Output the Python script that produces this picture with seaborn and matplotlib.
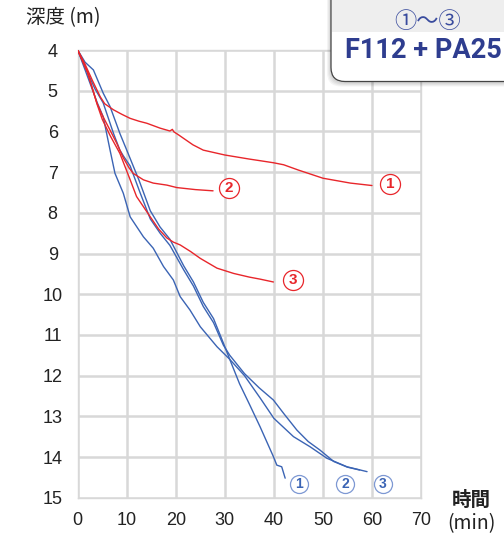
import matplotlib
matplotlib.use("Agg")
import matplotlib.pyplot as plt
import seaborn as sns
from matplotlib.patches import FancyBboxPatch, Rectangle
from matplotlib.transforms import IdentityTransform

# depth (m) vs time (min)
red1_x = [0, 1.5, 3, 4, 4.6, 5.5, 7.3, 9, 10.7, 12.5, 14.1, 16.8, 18.8, 19.3, 19.6, 20.5, 23.5, 25.6, 30, 35, 37.2, 39.9, 42, 45, 50, 55.6, 60]
red1_y = [4, 4.35, 4.75, 5.0, 5.15, 5.32, 5.47, 5.58, 5.68, 5.75, 5.8, 5.92, 5.99, 5.95, 6.01, 6.08, 6.33, 6.46, 6.58, 6.68, 6.72, 6.77, 6.82, 6.95, 7.15, 7.27, 7.33]
red2_x = [0, 2, 3.9, 5, 6.6, 8, 9.3, 10.5, 11.3, 13.4, 15.4, 18.2, 20.2, 24, 27.6]
red2_y = [4, 4.55, 5.3, 5.6, 5.97, 6.3, 6.65, 6.9, 7.03, 7.19, 7.27, 7.32, 7.38, 7.43, 7.46]
red3_x = [0, 2, 4, 5, 6.6, 8.6, 10.7, 12, 14.8, 16.5, 18.2, 19.5, 20.9, 23, 25, 28.4, 31.8, 35, 37.2, 39.9]
red3_y = [4, 4.55, 5.35, 5.7, 6.1, 6.54, 7.19, 7.6, 8.1, 8.4, 8.62, 8.72, 8.79, 8.95, 9.12, 9.36, 9.49, 9.58, 9.63, 9.7]

blue1_x = [0, 1.5, 3.2, 5.2, 6.6, 8.6, 10, 12.5, 14.8, 16.8, 18.8, 21.6, 23.6, 25.6, 27.7, 29.7, 31, 33, 35, 37.2, 39.9, 40.6, 41.6, 42.3]
blue1_y = [4, 4.3, 4.49, 5.06, 5.39, 6.05, 6.46, 7.2, 7.95, 8.35, 8.65, 9.3, 9.7, 10.2, 10.6, 11.2, 11.6, 12.2, 12.7, 13.26, 13.99, 14.2, 14.24, 14.52]
blue2_x = [0, 2, 3.5, 5.2, 7.3, 8.6, 9.3, 10.7, 12.7, 14.8, 16.8, 18.8, 21.6, 23.6, 25.6, 27.7, 29.7, 31, 34, 37, 39.9, 42, 44.7, 47, 49.4, 52.2, 55, 57.5]
blue2_y = [4, 4.55, 4.95, 5.3, 6.05, 6.46, 6.6, 6.85, 7.5, 8.15, 8.5, 8.8, 9.4, 9.8, 10.3, 10.7, 11.25, 11.5, 11.95, 12.3, 12.6, 12.93, 13.34, 13.62, 13.83, 14.11, 14.25, 14.32]
blue3_x = [0, 2, 4, 5.2, 6.6, 7.6, 9.3, 10.7, 13.4, 15.4, 17.5, 19.5, 20.9, 22.9, 25, 28.4, 31, 34, 37.2, 40, 44, 47.4, 50.8, 54.9, 59]
blue3_y = [4, 4.65, 5.3, 5.64, 6.46, 7.03, 7.52, 8.1, 8.59, 8.87, 9.32, 9.65, 10.06, 10.39, 10.8, 11.29, 11.6, 12.0, 12.55, 13.05, 13.5, 13.75, 14.03, 14.24, 14.36]

# circled labels
red_labels = ["1", "2", "3"]
red_label_x = [63.7, 30.8, 43.8]
red_label_y = [7.3, 7.39, 9.65]
blue_labels = ["1", "2", "3"]
blue_label_x = [45.2, 54.6, 62.2]
blue_label_y = [14.66, 14.66, 14.66]

RED = "#e8262b"
BLUE = "#3b64b4"

sns.set_theme(style="white")
plt.rcParams["font.family"] = ["Liberation Sans", "Noto Sans CJK JP", "DejaVu Sans"]

fig = plt.figure(figsize=(5.04, 5.33), dpi=100)
ax = fig.add_axes([77.7 / 504, 1 - 497.7 / 533, (421 - 77.7) / 504, (497.7 - 50) / 533])

for xs, ys in [(blue1_x, blue1_y), (blue2_x, blue2_y), (blue3_x, blue3_y)]:
    sns.lineplot(x=xs, y=ys, sort=False, estimator=None, color=BLUE, lw=1.0, ax=ax, zorder=3)
for xs, ys in [(red1_x, red1_y), (red2_x, red2_y), (red3_x, red3_y)]:
    sns.lineplot(x=xs, y=ys, sort=False, estimator=None, color=RED, lw=1.0, ax=ax, zorder=4)

# circled numbers
ax.scatter(red_label_x, red_label_y, s=20 ** 2 * 0.52, facecolor="white", edgecolor=RED, lw=0.9, zorder=5, clip_on=False)
for t, x, y in zip(red_labels, red_label_x, red_label_y):
    ax.text(x, y, t, color=RED, fontsize=11, fontweight="bold", ha="center", va="center", zorder=6)
ax.scatter(blue_label_x, blue_label_y, s=18 ** 2 * 0.52, facecolor="white", edgecolor="#7d98d3", lw=0.9, zorder=5, clip_on=False)
for t, x, y in zip(blue_labels, blue_label_x, blue_label_y):
    ax.text(x, y, t, color=BLUE, fontsize=10, fontweight="bold", ha="center", va="center", zorder=6)

ax.set_xlim(0, 70)
ax.set_ylim(15, 4)
ax.set_xticks(range(0, 71, 10))
ax.set_yticks(range(4, 16))
ax.grid(True, color="#d8d8d8", lw=1.8, zorder=0)
ax.set_axisbelow(True)
for s in ax.spines.values():
    s.set_color("#d8d8d8")
    s.set_linewidth(1.0)
ax.tick_params(axis="both", length=0, labelsize=13, colors="#222222")
ax.tick_params(axis="x", pad=10)
ax.tick_params(axis="y", pad=18)
for lab in ax.get_yticklabels():
    lab.set_horizontalalignment("center")
ax.set_xlabel("")
ax.set_ylabel("")

fig.text(26 / 504, 1 - 17.5 / 533, "深度 (m)", fontsize=14, va="center", ha="left",
         family=["Noto Sans CJK JP"], color="#222222")
fig.text(471.5 / 504, 1 - 500 / 533, "時間", fontsize=14, fontweight="bold", va="center", ha="center",
         family=["Noto Sans CJK JP"], color="#222222")
fig.text(471.5 / 504, 1 - 524 / 533, "(min)", fontsize=14, va="center", ha="center",
         family=["Noto Sans CJK JP"], color="#222222")

# legend box in the top-right corner (pixel coords)
H = 533
box_left, box_bottom = 331, H - 81.5
for i in range(4):
    sh = FancyBboxPatch((box_left - 1 - i, box_bottom - 2 - i), 300, 200,
                        boxstyle="round,pad=0,rounding_size=14", transform=IdentityTransform(),
                        facecolor="black", edgecolor="none", alpha=0.045, zorder=10)
    fig.add_artist(sh)
box = FancyBboxPatch((box_left, box_bottom), 300, 200,
                     boxstyle="round,pad=0,rounding_size=14", transform=IdentityTransform(),
                     facecolor="white", edgecolor="#444444", lw=0.9, zorder=11)
fig.add_artist(box)
band = Rectangle((box_left + 0.8, H - 31.7), 200, 40, transform=IdentityTransform(),
                 facecolor="#eeeeee", edgecolor="none", zorder=12)
fig.add_artist(band)
fig.text(428 / 504, 1 - 21 / 533, "①〜③", fontsize=16, ha="center", va="center",
         family=["Noto Sans CJK JP"], color="#3a4c9e", zorder=13)
fig.text(345 / 504, 1 - 51 / 533, "F112 + PA25", fontsize=19.5, fontweight="bold", ha="left", va="center",
         family=["Roboto", "Liberation Sans", "DejaVu Sans"], color="#2e3d8f", zorder=13)

fig.savefig("out.png", dpi=100)
